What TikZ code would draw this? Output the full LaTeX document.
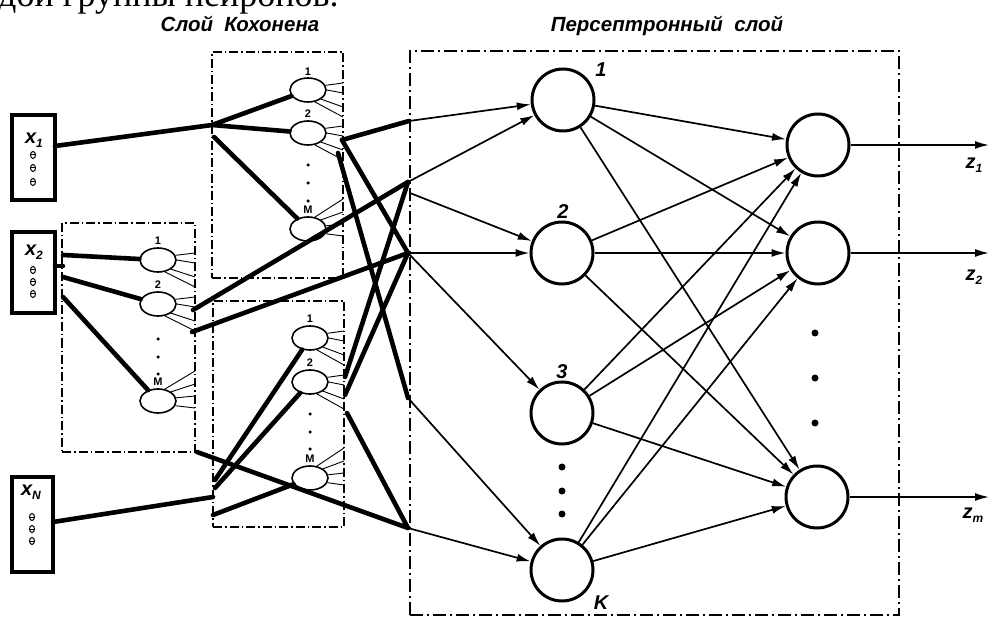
\documentclass[tikz,border=0pt]{standalone}
\usepackage{fontspec}
\setmainfont{Liberation Serif}
\newfontfamily\sfl{Liberation Sans}
\usetikzlibrary{shapes.geometric,arrows.meta}
\newcommand\fanup[3]{\draw[fanl] (#1.15) -- (#2,#3-7) (#1.0) -- (#2,#3+3) (#1.-35) -- (#2,#3+17) (#1.-60) -- (#2,#3+27);}
\newcommand\fandown[3]{\draw[fanl] (#1.60) -- (#2,#3-30) (#1.35) -- (#2,#3-17) (#1.10) -- (#2,#3-5) (#1.-15) -- (#2,#3+7);}
\newcommand\lowsub[1]{\raisebox{-4pt}{\fontsize{12}{12}\selectfont #1}}
\begin{document}
\begin{tikzpicture}[x=1pt,y=-1pt,
  thk/.style={line width=4.6pt,line cap=round},
  arr/.style={line width=1.7pt,-{Latex[length=14pt,width=8pt]}},
  fanl/.style={line width=0.9pt},
  kbox/.style={draw,line width=1.3pt,dash pattern=on 9pt off 3pt on 1.5pt off 3pt,inner sep=0pt},
  pboxs/.style={draw,line width=2.2pt,dash pattern=on 13pt off 4pt on 2pt off 4pt,inner sep=0pt},
  kneur/.style={draw,ellipse,line width=1.6pt,minimum width=36pt,minimum height=24pt,inner sep=0pt},
  pneur/.style={draw,circle,line width=3pt,minimum size=62pt,inner sep=0pt},
  inbox/.style={draw,line width=4pt,inner sep=0pt},
  klab/.style={font=\sfl\bfseries\fontsize{11}{11}\selectfont,inner sep=0pt},
  lab/.style={font=\sfl\bfseries\itshape\fontsize{20}{20}\selectfont,inner sep=0pt},
  title/.style={font=\sfl\bfseries\itshape\fontsize{20.5}{21}\selectfont,inner sep=0pt,anchor=base},
  dot/.style={fill,circle,inner sep=0pt,minimum size=#1}
]
\useasboundingbox (0,0) rectangle (990,617);
\clip (0,0) rectangle (990,617);
\fill[white] (0,0) rectangle (990,617);

% cut-off text at top (the reference shows only its lower half)
\node[anchor=base west,inner sep=0pt,font=\fontsize{36}{36}\selectfont] (cut) at (-2,7) {дой группы нейронов.};

% titles
\node[title] (t1) at (240,32) {Слой\ \ Кохонена};
\node[title] (t2) at (667,32) {Персептронный\ \ слой};

% input boxes
\node[inbox,minimum width=43pt,minimum height=85pt] (x1) at (33.5,157.5) {};
\node[inbox,minimum width=43pt,minimum height=81pt] (x2) at (33.5,272.5) {};
\node[inbox,minimum width=41pt,minimum height=95pt] (xN) at (32.5,524.5) {};
\node[lab] (lx1) at (34,140) {x\lowsub{1}};
\node[lab] (lx2) at (34,252) {x\lowsub{2}};
\node[lab] (lxN) at (31,492) {x\lowsub{N}};
\foreach \yy in {155,168,182}{\draw[line width=1pt] (33,\yy) ellipse (2.5 and 3.5); \draw[line width=1pt] (30,\yy) -- (36,\yy);}
\foreach \yy in {270,282,294}{\draw[line width=1pt] (33,\yy) ellipse (2.5 and 3.5); \draw[line width=1pt] (30,\yy) -- (36,\yy);}
\foreach \yy in {517,529,541}{\draw[line width=1pt] (32,\yy) ellipse (2.5 and 3.5); \draw[line width=1pt] (29,\yy) -- (35,\yy);}

% Kohonen group boxes
\node[kbox,minimum width=131pt,minimum height=226pt] (gA) at (277.5,165) {};
\node[kbox,minimum width=133pt,minimum height=229pt] (gB) at (128.5,337.5) {};
\node[kbox,minimum width=131pt,minimum height=226pt] (gC) at (278.5,414) {};

% Kohonen neurons
\node[kneur] (a1) at (308,90) {};  \node[klab] (la1) at (308,72) {1};
\node[kneur] (a2) at (308,133) {}; \node[klab] (la2) at (308,114) {2};
\node[kneur] (aM) at (308,229) {}; \node[klab] (laM) at (308,210) {M};
\node[kneur] (b1) at (158,260) {}; \node[klab] (lb1) at (158,241) {1};
\node[kneur] (b2) at (158,304) {}; \node[klab] (lb2) at (158,285) {2};
\node[kneur] (bM) at (158,401) {}; \node[klab] (lbM) at (158,382) {M};
\node[kneur] (c1) at (310,338) {}; \node[klab] (lc1) at (310,319) {1};
\node[kneur] (c2) at (310,382) {}; \node[klab] (lc2) at (310,363) {2};
\node[kneur] (cM) at (310,478) {}; \node[klab] (lcM) at (310,459) {M};
\foreach \yy in {165,183,201} \node[dot=3.5pt] at (308,\yy) {};
\foreach \yy in {339,357,374} \node[dot=3.5pt] at (158,\yy) {};
\foreach \yy in {414,432,449} \node[dot=3.5pt] at (310,\yy) {};
\fanup{a1}{343}{90} \fanup{a2}{343}{133} \fandown{aM}{343}{229}
\fanup{b1}{195}{260} \fanup{b2}{195}{304} \fandown{bM}{195}{401}
\fanup{c1}{344}{338} \fanup{c2}{344}{382} \fandown{cM}{344}{478}

% perceptron layer box
\node[pboxs,minimum width=489pt,minimum height=564pt] (pb) at (654.5,333) {};

% perceptron neurons
\node[pneur] (p1) at (563,100) {};
\node[pneur] (p2) at (562,253) {};
\node[pneur] (p3) at (562,413) {};
\node[pneur] (pK) at (562,570) {};
\node[lab] (lp1) at (601,70) {1};
\node[lab] (lp2) at (563,212) {2};
\node[lab] (lp3) at (562,372) {3};
\node[lab] (lpK) at (601,603) {K};
\foreach \yy in {467,491,514} \node[dot=7pt] at (562,\yy) {};

% output neurons
\node[pneur] (o1) at (818,145) {};
\node[pneur] (o2) at (818,253) {};
\node[pneur] (om) at (817,497) {};
\foreach \yy in {333,378,423} \node[dot=7pt] at (815,\yy) {};

% coordinates
\coordinate (x1o) at (55,146);
\coordinate (jA) at (212,125);
\coordinate (jA2) at (214,137);
\coordinate (x2o) at (55,266);
\coordinate (jB) at (63,266);
\coordinate (jB1) at (63,255);
\coordinate (jB2) at (63,277);
\coordinate (jB3) at (63,297);
\coordinate (xNo) at (53,522);
\coordinate (jC) at (213,497);
\coordinate (jC1) at (215,480);
\coordinate (jC2) at (215,488);
\coordinate (jC3) at (213,515);
\coordinate (aO1) at (342,140);
\coordinate (aO2) at (338,153);
\coordinate (bO1) at (193,310);
\coordinate (bO2) at (192,332);
\coordinate (bO3) at (197,452);
\coordinate (cO1) at (345,377);
\coordinate (cO2) at (345,395);
\coordinate (cO3) at (347,413);
\coordinate (j0) at (409,121);
\coordinate (j1) at (408,182);
\coordinate (j1b) at (410,193);
\coordinate (j2) at (408,253);
\coordinate (j3) at (408,398);
\coordinate (j4) at (408,528);
\coordinate (e1) at (989,145);
\coordinate (e2) at (989,253);
\coordinate (em) at (989,497);

% thick input lines
\draw[thk] (x1o) -- (jA);
\draw[thk] (jA) -- (a1);
\draw[thk] (jA) -- (a2);
\draw[thk] (jA2) -- (aM);
\draw[thk] (x2o) -- (jB);
\draw[thk] (jB1) -- (b1);
\draw[thk] (jB2) -- (b2);
\draw[thk] (jB3) -- (bM);
\draw[thk] (xNo) -- (jC);
\draw[thk] (jC1) -- (c1);
\draw[thk] (jC2) -- (c2);
\draw[thk] (jC3) -- (cM);

% thick Kohonen-output lines
\draw[thk] (aO1) -- (j0);
\draw[thk] (aO1) -- (j2);
\draw[thk] (aO2) -- (j3);
\draw[thk] (bO1) -- (j1);
\draw[thk] (bO2) -- (j2);
\draw[thk] (bO3) -- (j4);
\draw[thk] (cO1) -- (j1);
\draw[thk] (cO2) -- (j2);
\draw[thk] (cO3) -- (j4);

% arrows into perceptron neurons
\draw[arr] (j0) -- (p1);
\draw[arr] (j1) -- (p1);
\draw[arr] (j1b) -- (p2);
\draw[arr] (j2) -- (p2);
\draw[arr] (j2) -- (p3);
\draw[arr] (j3) -- (pK);
\draw[arr] (j4) -- (pK);

% perceptron -> output
\foreach \s in {p1,p2,p3,pK}{
  \foreach \t in {o1,o2,om}{
    \draw[arr] (\s) -- (\t);
  }
}

% outputs
\draw[arr] (o1) -- (e1);
\draw[arr] (o2) -- (e2);
\draw[arr] (om) -- (em);
\node[lab] (z1) at (974,165) {z\lowsub{1}};
\node[lab] (z2) at (974,277) {z\lowsub{2}};
\node[lab] (zm) at (973,515) {z\lowsub{m}};
\end{tikzpicture}
\end{document}
